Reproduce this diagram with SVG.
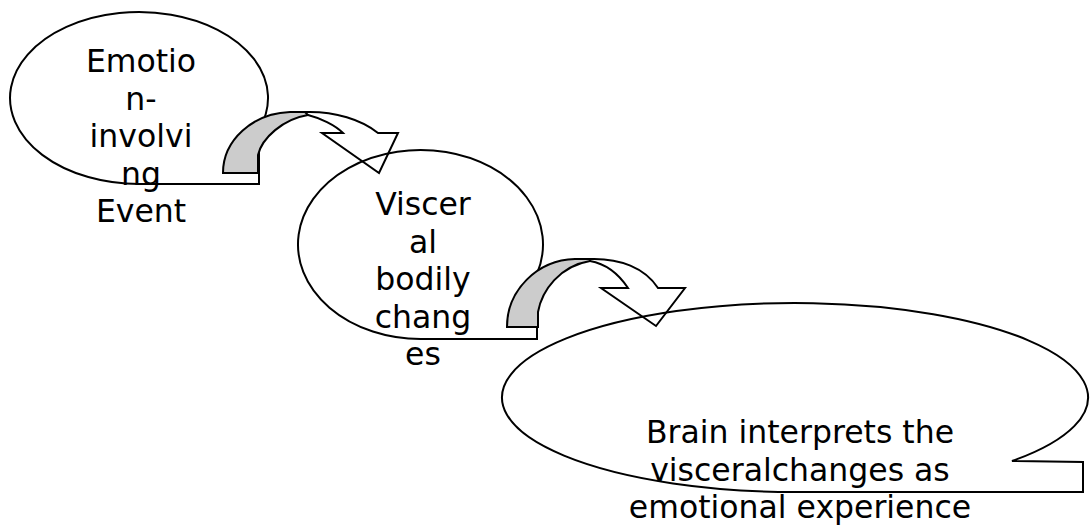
<svg xmlns="http://www.w3.org/2000/svg" width="1090" height="525" viewBox="0 0 1090 525">
<style>
.shape{fill:none;stroke:#000;stroke-width:2;stroke-linejoin:miter}
.back{fill:#cccccc;stroke:#000;stroke-width:2}
.lbl{font-family:"DejaVu Sans",Verdana,sans-serif;font-size:31.5px;fill:#000;text-anchor:middle}
</style>
<rect width="1090" height="525" fill="#fff"/>
<g id="node-event">
<path class="shape" d="M259,184 L139,184 A129,86 0 1 1 259,129.6 Z"/>
</g>
<g id="node-visceral">
<path class="shape" d="M537,339 L420.5,339 A122.5,94.5 0 1 1 537,273.7 Z"/>
</g>
<g id="node-brain">
<path class="shape" d="M795,492 A293,94.5 0 1 1 1012,461 L1083,462 L1083,492 Z"/>
</g>
<g id="connectors">
<g id="arrow-1">
<path class="back" d="M223,173 L258,173 L258,155 C262,138 283,119 308,115 L305,112 L290,112 A70,61 0 0 0 223,173 Z"/>
<path class="shape" d="M290,112 L305,112 C335,111 362,120 378,133 L398,133 L379,173 L322,133 L343,133 C335,125 320,118 308,115"/>
</g>
<g id="arrow-2">
<path class="back" d="M507,327 L538,327 L538,312 C542,290 560,266 590,261 L590,259 L575,259 A70,68 0 0 0 507,327 Z"/>
<path class="shape" d="M575,259 L590,259 C620,258 645,268 658,288 L685,288 L656,326 L601,288 L628,288 C620,276 607,264 590,261"/>
</g>
</g>
<g id="labels">
<text class="lbl" x="141" y="72">Emotio</text>
<text class="lbl" x="141" y="109.5">n-</text>
<text class="lbl" x="141" y="147">involvi</text>
<text class="lbl" x="141" y="184.5">ng</text>
<text class="lbl" x="141" y="222">Event</text>
<text class="lbl" x="423" y="215">Viscer</text>
<text class="lbl" x="423" y="252.5">al</text>
<text class="lbl" x="423" y="290">bodily</text>
<text class="lbl" x="423" y="327.5">chang</text>
<text class="lbl" x="423" y="365">es</text>
<text class="lbl" x="800" y="443">Brain interprets the</text>
<text class="lbl" x="800" y="480.5">visceralchanges as</text>
<text class="lbl" x="800" y="518">emotional experience</text>
</g>
</svg>
